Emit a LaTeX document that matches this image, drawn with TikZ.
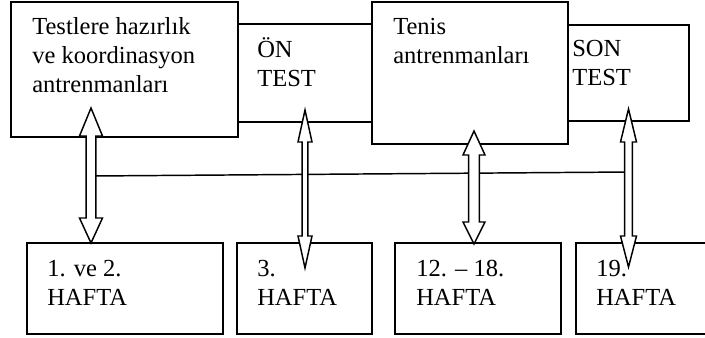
\documentclass[tikz,border=0pt]{standalone}
\usepackage{fontspec}
\setmainfont{Liberation Serif}
\usetikzlibrary{calc}
\newcommand\mkbox[5]{\node[box, anchor=north west, minimum width={(#4-#2)*0.75pt}, minimum height={(#5-#3)*0.75pt}] (#1) at (#2,#3) {};}
% name, cx, ytop, ybot, shaft half, head half, top head length, bottom head length
\newcommand\dblarrow[8]{%
  \coordinate (#1top) at (#2,#3);
  \coordinate (#1bot) at (#2,#4);
  \draw[hollow] (#1top) -- ({#2+#6},{#3+#7}) -- ({#2+#5},{#3+#7}) -- ({#2+#5},{#4-#8}) -- ({#2+#6},{#4-#8}) -- (#1bot)
    -- ({#2-#6},{#4-#8}) -- ({#2-#5},{#4-#8}) -- ({#2-#5},{#3+#7}) -- ({#2-#6},{#3+#7}) -- cycle;}
\begin{document}
\begin{tikzpicture}[x=0.75pt,y=-0.75pt,
  box/.style={draw, line width=1.2pt, inner sep=0pt, outer sep=0pt},
  lbl/.style={anchor=base west, align=left, inner sep=0pt, font=\fontsize{18.4pt}{21.4pt}\selectfont},
  hollow/.style={draw, fill=white, line width=1.1pt, line join=miter},
  link/.style={draw, line width=1.1pt}]
\useasboundingbox (0,0) rectangle (705,337);
% top row
\mkbox{prep}{11}{2}{238}{137}
\mkbox{on}{238}{24}{372}{122}
\mkbox{tenis}{372}{2}{568}{144}
\mkbox{son}{568}{25}{689}{121}
% bottom row
\mkbox{w1}{27}{243}{223}{334}
\mkbox{w3}{237}{243}{372}{334}
\mkbox{w12}{395}{243}{561}{334}
\mkbox{w19}{576}{243}{712}{334}
% labels (anchor is the baseline of the last line)
\node[lbl] (tprep) at ($(prep.north west)+(21,90)$) {Testlere hazırlık\\ve koordinasyon\\antrenmanları};
\node[lbl] (ton) at ($(on.north west)+(19,62)$) {ÖN\\TEST};
\node[lbl] (ttenis) at ($(tenis.north west)+(21,61.5)$) {Tenis\\antrenmanları};
\node[lbl] (tson) at ($(son.north west)+(4,60.5)$) {SON\\TEST};
\node[lbl] (tw1) at ($(w1.north west)+(20,62.5)$) {1. ve 2.\\HAFTA};
\node[lbl] (tw3) at ($(w3.north west)+(20,62.5)$) {3.\\HAFTA};
\node[lbl] (tw12) at ($(w12.north west)+(21,62.5)$) {12. – 18.\\HAFTA};
\node[lbl] (tw19) at ($(w19.north west)+(20,62.5)$) {19.\\HAFTA};
% connecting line
\coordinate (lineL) at (91,176);
\coordinate (lineR) at (628.5,172);
\draw[link] (lineL) -- (lineR);
% double arrows
\dblarrow{aA}{91}{108}{243}{4.8}{11.5}{28}{25}
\dblarrow{aB}{305}{110}{268}{2.8}{7}{32}{32}
\dblarrow{aC}{474}{131}{244}{5.3}{11}{24}{22}
\dblarrow{aD}{628.5}{109}{267}{3.8}{8}{33}{31}
\end{tikzpicture}
\end{document}
